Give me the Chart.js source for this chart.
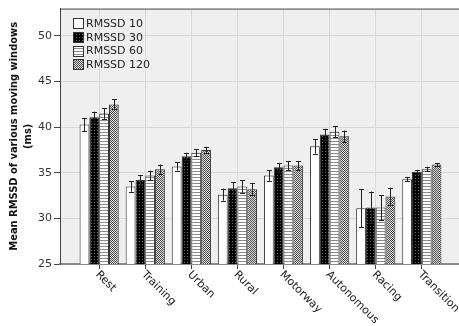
<!DOCTYPE html>
<html><head><meta charset="utf-8">
<script src="https://cdn.jsdelivr.net/npm/chart.js@4.4.1/dist/chart.umd.min.js"></script>
<style>html,body{margin:0;padding:0;background:#fff;overflow:hidden}#wrap{width:462px;height:326px}</style>
</head><body><div id="wrap"><canvas id="c" width="462" height="326"></canvas></div>
<script>
// Categories (driving phases) and series
const categories = ['Rest', 'Training', 'Urban', 'Rural', 'Motorway', 'Autonomous', 'Racing', 'Transition'];
const seriesNames = ['RMSSD 10', 'RMSSD 30', 'RMSSD 60', 'RMSSD 120'];

// Mean RMSSD (ms) per window length
const rmssd10  = [40.3, 33.5, 35.7, 32.6, 34.7, 37.9, 31.1, 34.3];
const rmssd30  = [41.1, 34.2, 36.8, 33.3, 35.6, 39.2, 31.2, 35.1];
const rmssd60  = [41.5, 34.7, 37.2, 33.5, 35.8, 39.5, 31.2, 35.4];
const rmssd120 = [42.5, 35.4, 37.5, 33.2, 35.8, 39.0, 32.4, 35.9];

// Error bar half-lengths (ms)
const err10  = [0.72, 0.58, 0.45, 0.66, 0.57, 0.80, 2.08, 0.25];
const err30  = [0.60, 0.54, 0.40, 0.65, 0.48, 0.63, 1.74, 0.22];
const err60  = [0.60, 0.54, 0.40, 0.68, 0.50, 0.63, 1.35, 0.25];
const err120 = [0.56, 0.50, 0.35, 0.65, 0.48, 0.63, 0.97, 0.18];

const yTicks = [25, 30, 35, 40, 45, 50];

// Fill patterns for the four series
function makePattern(w, h, draw) {
  const c = document.createElement('canvas');
  c.width = w; c.height = h;
  const g = c.getContext('2d');
  draw(g);
  return g.createPattern(c, 'repeat');
}
const fillWhite = '#ffffff';
const fillDots = makePattern(3, 3, g => {
  g.fillStyle = '#000'; g.fillRect(0, 0, 3, 3);
  g.fillStyle = '#6a6a6a'; g.fillRect(1, 1, 1, 1);
});
const fillStripes = makePattern(1, 3, g => {
  g.fillStyle = '#fff'; g.fillRect(0, 0, 1, 3);
  g.fillStyle = '#8a8a8a'; g.fillRect(0, 0, 1, 1);
});
const fillChecker = makePattern(2, 2, g => {
  g.fillStyle = '#dcdcdc'; g.fillRect(0, 0, 2, 2);
  g.fillStyle = '#505050'; g.fillRect(0, 0, 1, 1); g.fillRect(1, 1, 1, 1);
});
const fills = [fillWhite, fillDots, fillStripes, fillChecker];
const values = [rmssd10, rmssd30, rmssd60, rmssd120];
const errors = [err10, err30, err60, err120];

const datasets = values.map((vals, k) => ({
  label: seriesNames[k],
  data: vals.map((v, i) => ({ x: i, y: v })),
  errors: errors[k],
  backgroundColor: fills[k],
  borderColor: '#333',
  borderWidth: 1,
  categoryPercentage: 0.85,
  barPercentage: 1.0
}));

const FONT = '"DejaVu Sans", "Noto Sans", sans-serif';
const TITLE_FONT = '"DejaVu Sans Condensed", "DejaVu Sans", sans-serif';

const plotBackground = {
  id: 'plotBackground',
  beforeDraw(chart) {
    const { ctx, chartArea: a } = chart;
    ctx.save();
    ctx.fillStyle = '#efefef';
    ctx.fillRect(a.left, a.top, a.right - a.left, a.bottom - a.top);
    ctx.restore();
  },
  afterDraw(chart) {
    const { ctx, chartArea: a } = chart;
    ctx.save();
    ctx.strokeStyle = '#444';
    ctx.lineWidth = 1;
    ctx.beginPath();
    ctx.moveTo(a.left, a.top + 0.5);
    ctx.lineTo(a.right, a.top + 0.5);
    ctx.stroke();
    ctx.restore();
  }
};

const errorBars = {
  id: 'errorBars',
  afterDatasetsDraw(chart) {
    const { ctx } = chart;
    const ys = chart.scales.y;
    ctx.save();
    ctx.strokeStyle = '#222';
    ctx.lineWidth = 1;
    chart.data.datasets.forEach((ds, k) => {
      const meta = chart.getDatasetMeta(k);
      meta.data.forEach((bar, i) => {
        const v = ds.data[i].y, e = ds.errors[i];
        const x = Math.round(bar.x) + 0.5;
        const top = ys.getPixelForValue(v + e);
        const bot = ys.getPixelForValue(v - e);
        ctx.beginPath();
        ctx.moveTo(x, top); ctx.lineTo(x, bot);
        ctx.moveTo(x - 2.5, Math.round(top) + 0.5); ctx.lineTo(x + 2.5, Math.round(top) + 0.5);
        ctx.moveTo(x - 2.5, Math.round(bot) + 0.5); ctx.lineTo(x + 2.5, Math.round(bot) + 0.5);
        ctx.stroke();
      });
    });
    ctx.restore();
  }
};

const categoryLabels = {
  id: 'categoryLabels',
  afterDraw(chart) {
    const { ctx, chartArea: a } = chart;
    const xs = chart.scales.x;
    ctx.save();
    ctx.font = '11px ' + FONT;
    ctx.fillStyle = '#222';
    ctx.textAlign = 'left';
    ctx.textBaseline = 'middle';
    categories.forEach((name, i) => {
      const x = xs.getPixelForValue(i);
      ctx.save();
      ctx.translate(x - 2, a.bottom + 9);
      ctx.rotate(Math.PI / 4);
      ctx.fillText(name, 0, 0);
      ctx.restore();
    });
    ctx.restore();
  }
};

const insetLegend = {
  id: 'insetLegend',
  afterDraw(chart) {
    const { ctx, chartArea: a } = chart;
    ctx.save();
    ctx.font = '11px ' + FONT;
    ctx.textAlign = 'left';
    ctx.textBaseline = 'middle';
    chart.data.datasets.forEach((ds, k) => {
      const cy = a.top + 15 + k * 13.7;
      const bx = a.left + 13, by = Math.round(cy - 5.5);
      ctx.fillStyle = ds.backgroundColor;
      ctx.fillRect(bx, by, 11, 11);
      ctx.strokeStyle = '#333';
      ctx.lineWidth = 1;
      ctx.strokeRect(bx + 0.5, by + 0.5, 10, 10);
      ctx.fillStyle = '#222';
      ctx.fillText(ds.label, bx + 13, cy + 0.5);
    });
    ctx.restore();
  }
};

new Chart(document.getElementById('c'), {
  type: 'bar',
  data: { datasets },
  plugins: [plotBackground, errorBars, categoryLabels, insetLegend],
  options: {
    responsive: false,
    animation: false,
    devicePixelRatio: 1,
    layout: { padding: { top: 5, right: 1, left: 0, bottom: 0 } },
    plugins: { legend: { display: false }, tooltip: { enabled: false } },
    scales: {
      x: {
        type: 'linear',
        min: -0.85,
        max: 7.85,
        offset: false,
        afterBuildTicks: s => { s.ticks = categories.map((_, i) => ({ value: i })); },
        afterFit: s => { s.height = 62; },
        ticks: { display: false },
        grid: { offset: false, color: '#d8d8d8', drawTicks: true, tickLength: 5, tickColor: '#444' },
        border: { color: '#8c8c8c', width: 2 }
      },
      y: {
        min: 25,
        max: 53,
        afterBuildTicks: s => { s.ticks = yTicks.map(v => ({ value: v })); },
        afterFit: s => { s.width = 60; },
        ticks: { font: { family: FONT, size: 11 }, color: '#333', padding: 2 },
        grid: { color: '#d8d8d8', tickLength: 6, tickColor: '#444' },
        border: { color: '#444', width: 1 },
        title: {
          display: true,
          text: ['Mean RMSSD of various moving windows', '(ms)'],
          font: { family: TITLE_FONT, weight: 'bold', size: 11, lineHeight: 1.2 },
          color: '#111',
          padding: { top: 8, bottom: 0 }
        }
      }
    }
  }
});
</script>
</body></html>
